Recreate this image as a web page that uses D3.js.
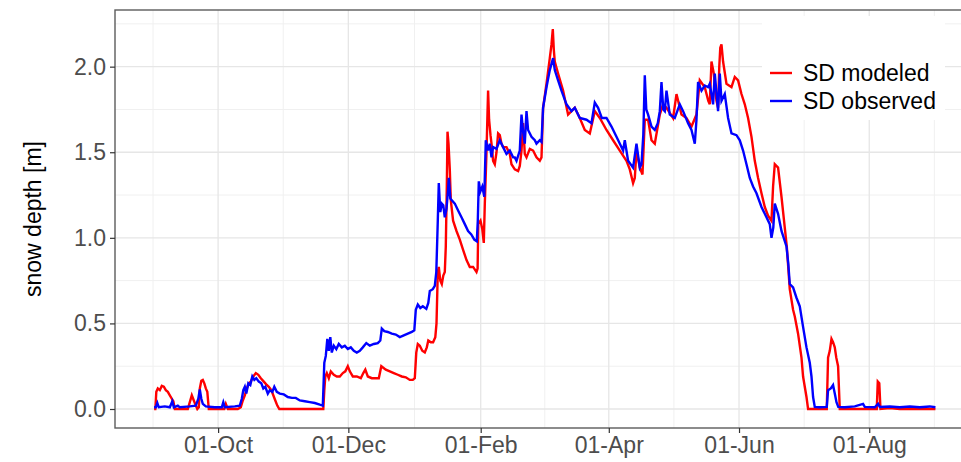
<!DOCTYPE html>
<html>
<head>
<meta charset="utf-8">
<script src="https://cdn.jsdelivr.net/npm/d3@7"></script>
<style>
  body { margin: 0; background: #fff; }
  svg { display: block; font-family: "Liberation Sans", Arial, sans-serif; }
</style>
</head>
<body>
<svg id="chart" width="961" height="462"></svg>
<script>
// Snow depth, hydrological year starting 1 Sep 2015.
// Times are given as days since the season start.
const seasonStart = Date.UTC(2015, 8, 1);

// Modeled snow depth [m]
const modDay = [0, 0.59, 1.05, 1.76, 2.69, 3.63, 4.57, 5.50, 6.44, 7.38, 8.31, 9.02, 9.72, 14.40, 15.81, 16.74, 17.68, 18.62, 19.55, 20.26,
  20.96, 21.43, 22.13, 22.83, 23.54, 24.24, 24.94, 25.64, 31.73, 32.90, 33.61, 34.54, 39.23, 40.63, 41.57, 42.51, 43.44, 44.38, 45.32, 46.49,
  47.66, 48.83, 50.00, 51.41, 52.81, 53.75, 54.92, 55.85, 56.79, 57.73, 58.67, 79.27, 79.74, 80.21, 80.91, 81.85, 82.79, 84.19, 85.60, 87.00,
  88.41, 89.58, 90.75, 91.69, 93.09, 94.96, 96.84, 98.01, 98.95, 100.12, 101.99, 103.86, 105.27, 106.44, 108.55, 110.42, 112.30, 114.17, 116.04, 117.92,
  119.79, 121.19, 122.13, 122.83, 123.54, 124.47, 125.64, 126.81, 127.75, 128.45, 129.63, 130.70, 131.73, 132.30, 132.90, 133.37, 134.07, 134.78, 135.48, 136.18,
  136.65, 137.12, 137.45, 137.92, 138.52, 138.99, 140.07, 141.66, 143.21, 144.75, 146.35, 147.89, 149.44, 151.03, 151.55, 151.87, 152.90, 153.75, 154.45, 154.92,
  155.71, 156.46, 156.93, 157.59, 158.06, 158.81, 159.60, 160.40, 161.15, 161.94, 162.74, 163.49, 165.08, 166.63, 167.42, 168.97, 170.52, 171.31, 172.11, 172.86,
  173.65, 174.45, 176.00, 177.54, 179.13, 180.68, 181.48, 182.22, 183.82, 185.36, 186.16, 186.77, 187.24, 187.70, 189.25, 191.59, 193.93, 195.53, 197.07, 199.41,
  201.76, 204.10, 206.44, 208.78, 211.92, 215.01, 218.15, 221.29, 222.83, 224.38, 225.18, 225.97, 227.52, 228.78, 229.86, 231.41, 233.00, 234.54, 236.89, 238.43,
  240.02, 241.57, 243.11, 244.71, 247.05, 249.39, 251.73, 254.07, 255.62, 257.96, 259.60, 260.30, 261.10, 262.18, 262.65, 263.44, 264.19, 264.75, 265.22, 265.78,
  266.53, 268.12, 270.47, 272.01, 273.56, 275.15, 276.70, 278.24, 279.84, 281.38, 282.93, 284.52, 286.07, 287.61, 289.20, 289.95, 290.75, 292.29, 293.89, 295.43,
  296.37, 297.77, 299.32, 300.12, 301.66, 303.26, 304.00, 305.60, 306.35, 315.10, 315.71, 316.51, 317.31, 318.05, 318.85, 319.56, 320.40, 321.19, 338.52, 338.99,
  339.70, 340.26, 344.61, 349.29, 366.0];
const modDepth = [0, 0, 0.10, 0.12, 0.11, 0.135, 0.13, 0.11, 0.10, 0.08, 0.06, 0.045, 0, 0, 0, 0.04, 0.08, 0.05, 0.02, 0,
  0.01, 0.12, 0.165, 0.17, 0.15, 0.12, 0.10, 0, 0, 0, 0.03, 0, 0, 0.01, 0.05, 0.08, 0.12, 0.15, 0.16, 0.19,
  0.21, 0.20, 0.18, 0.16, 0.14, 0.13, 0.11, 0.08, 0.05, 0.02, 0, 0, 0.11, 0.19, 0.21, 0.18, 0.22, 0.20, 0.19, 0.19,
  0.21, 0.22, 0.25, 0.22, 0.19, 0.19, 0.18, 0.21, 0.23, 0.19, 0.18, 0.18, 0.18, 0.25, 0.23, 0.22, 0.21, 0.20, 0.19, 0.185,
  0.17, 0.17, 0.18, 0.33, 0.38, 0.37, 0.34, 0.33, 0.36, 0.40, 0.39, 0.39, 0.42, 0.50, 0.80, 0.83, 0.75, 0.73, 0.78, 0.80,
  0.95, 1.30, 1.62, 1.55, 1.40, 1.22, 1.10, 1.04, 0.99, 0.93, 0.87, 0.83, 0.83, 0.80, 0.82, 1.08, 1.10, 1.05, 0.97, 1.20,
  1.50, 1.86, 1.69, 1.60, 1.55, 1.45, 1.43, 1.50, 1.61, 1.60, 1.55, 1.53, 1.53, 1.49, 1.43, 1.40, 1.39, 1.42, 1.51, 1.67,
  1.49, 1.47, 1.52, 1.51, 1.47, 1.45, 1.47, 1.76, 1.90, 2.05, 2.13, 2.22, 2.10, 2.03, 1.96, 1.86, 1.72, 1.74, 1.76, 1.70,
  1.63, 1.61, 1.74, 1.70, 1.63, 1.57, 1.51, 1.45, 1.40, 1.32, 1.35, 1.51, 1.41, 1.37, 1.69, 1.69, 1.57, 1.55, 1.72, 1.78,
  1.76, 1.73, 1.70, 1.84, 1.72, 1.70, 1.65, 1.72, 1.92, 1.88, 1.80, 1.78, 2.03, 1.96, 1.90, 1.80, 1.76, 2.00, 2.11, 2.13,
  2.03, 1.90, 1.88, 1.94, 1.92, 1.84, 1.78, 1.70, 1.59, 1.45, 1.35, 1.26, 1.18, 1.13, 1.10, 1.30, 1.43, 1.41, 1.24, 1.06,
  0.95, 0.70, 0.58, 0.54, 0.44, 0.30, 0.19, 0.07, 0, 0, 0.30, 0.34, 0.41, 0.39, 0.36, 0.30, 0.25, 0, 0, 0.16,
  0.15, 0, 0.005, 0, 0];

// Observed snow depth [m]
const obsDay = [0, 0.82, 1.52, 2.22, 5.04, 7.38, 8.55, 9.25, 11.12, 12.06, 16.74, 19.55, 20.73, 21.43, 22.13, 22.83, 24.24, 28.45, 31.73, 32.44,
  33.14, 37.82, 40.16, 41.10, 41.80, 42.51, 43.21, 44.15, 45.08, 46.02, 46.96, 47.89, 49.06, 50.23, 51.17, 52.11, 53.28, 54.22, 55.39, 56.32,
  57.49, 58.90, 60.77, 62.65, 64.52, 66.39, 68.27, 70.61, 72.95, 75.30, 77.64, 79.04, 79.74, 80.44, 81.15, 81.85, 82.55, 83.25, 84.19, 85.36,
  86.53, 87.94, 89.34, 90.75, 92.15, 93.56, 94.96, 96.37, 97.77, 99.41, 101.05, 102.93, 104.80, 105.97, 106.67, 107.85, 109.48, 111.36, 113.23, 115.11,
  116.98, 118.85, 120.73, 121.90, 122.60, 123.54, 124.71, 125.88, 127.52, 128.45, 129.16, 130.56, 131.50, 132.20, 132.90, 133.37, 134.07, 134.78, 135.48, 136.18,
  136.98, 137.59, 138.06, 138.76, 139.46, 140.87, 142.41, 144.00, 145.55, 147.09, 148.59, 150.00, 151.17, 151.64, 152.11, 152.81, 153.75, 154.68, 155.39, 156.46,
  157.26, 158.06, 158.81, 160.40, 161.94, 163.49, 165.08, 166.63, 168.17, 168.97, 169.77, 171.31, 172.11, 172.86, 173.65, 174.45, 175.20, 176.79, 178.34, 179.13,
  180.68, 181.48, 182.22, 183.82, 185.36, 186.91, 187.70, 189.25, 190.84, 193.18, 195.53, 197.07, 199.41, 202.55, 204.89, 206.44, 207.99, 209.72, 211.92, 214.26,
  216.60, 219.70, 220.49, 222.04, 224.38, 225.97, 227.52, 228.31, 229.16, 229.86, 230.56, 231.41, 233.00, 234.54, 235.95, 236.89, 237.68, 238.52, 239.23, 240.02,
  241.57, 243.91, 246.25, 247.80, 250.14, 251.73, 253.28, 254.07, 254.82, 256.42, 257.96, 259.51, 260.30, 261.85, 262.65, 264.19, 264.99, 265.78, 267.33, 268.88,
  270.47, 272.81, 274.36, 275.90, 277.49, 279.04, 280.58, 282.18, 284.52, 286.86, 288.41, 289.20, 290.05, 290.75, 292.29, 293.89, 296.23, 297.07, 297.77, 299.32,
  300.91, 302.46, 304.00, 305.60, 307.14, 307.94, 308.69, 309.48, 311.83, 315.10, 315.71, 316.98, 318.05, 318.85, 319.65, 320.49, 323.53, 328.22, 332.10, 332.90,
  337.58, 339.13, 339.93, 344.61, 349.29, 353.98, 358.66, 363.34, 366.0];
const obsDepth = [0.01, 0.01, 0.035, 0.01, 0.015, 0.01, 0.045, 0.01, 0.02, 0.01, 0.015, 0.02, 0.06, 0.115, 0.06, 0.03, 0.015, 0.01, 0.01, 0.04,
  0.01, 0.015, 0.02, 0.06, 0.11, 0.13, 0.09, 0.15, 0.14, 0.19, 0.17, 0.18, 0.16, 0.15, 0.12, 0.13, 0.09, 0.11, 0.10, 0.13,
  0.10, 0.09, 0.085, 0.07, 0.065, 0.065, 0.05, 0.045, 0.04, 0.035, 0.025, 0.02, 0.27, 0.31, 0.41, 0.34, 0.42, 0.33, 0.37, 0.35,
  0.38, 0.36, 0.37, 0.35, 0.36, 0.34, 0.33, 0.34, 0.36, 0.385, 0.37, 0.38, 0.385, 0.40, 0.47, 0.455, 0.45, 0.44, 0.435, 0.42,
  0.43, 0.44, 0.45, 0.46, 0.58, 0.61, 0.59, 0.60, 0.585, 0.62, 0.69, 0.70, 0.72, 0.80, 1.10, 1.32, 1.15, 1.20, 1.19, 1.12,
  1.17, 1.26, 1.35, 1.23, 1.22, 1.20, 1.16, 1.12, 1.08, 1.04, 1.02, 0.99, 0.98, 1.10, 1.33, 1.27, 1.30, 1.24, 1.57, 1.51,
  1.55, 1.47, 1.53, 1.52, 1.57, 1.53, 1.49, 1.51, 1.47, 1.47, 1.45, 1.51, 1.72, 1.62, 1.55, 1.74, 1.63, 1.59, 1.57, 1.55,
  1.57, 1.56, 1.76, 1.88, 1.98, 2.05, 1.98, 1.92, 1.86, 1.78, 1.74, 1.76, 1.70, 1.69, 1.67, 1.79, 1.76, 1.70, 1.70, 1.65,
  1.59, 1.51, 1.57, 1.45, 1.41, 1.55, 1.41, 1.43, 1.60, 1.95, 1.75, 1.72, 1.65, 1.63, 1.67, 1.74, 1.91, 1.75, 1.74, 1.86,
  1.72, 1.70, 1.78, 1.74, 1.67, 1.63, 1.55, 1.69, 1.91, 1.86, 1.89, 1.88, 1.90, 1.78, 1.96, 1.74, 1.96, 1.80, 1.84, 1.70,
  1.61, 1.60, 1.57, 1.51, 1.43, 1.35, 1.30, 1.26, 1.18, 1.12, 1.08, 1.00, 1.06, 1.20, 1.14, 1.04, 0.95, 0.85, 0.73, 0.71,
  0.65, 0.60, 0.48, 0.36, 0.27, 0.19, 0.07, 0.012, 0.01, 0.012, 0.11, 0.12, 0.14, 0.09, 0.04, 0.012, 0.01, 0.015, 0.03, 0.012,
  0.01, 0.03, 0.012, 0.015, 0.01, 0.015, 0.01, 0.015, 0.01];

// Axis breaks and legend entries
const xTickDates = ["2015-10-01", "2015-12-01", "2016-02-01", "2016-04-01", "2016-06-01", "2016-08-01"];
const xOuterBreaks = ["2015-08-01", "2016-10-01"];
const yTicks = [0, 0.5, 1.0, 1.5, 2.0];
const seriesNames = ["SD modeled", "SD observed"];
const seriesColors = ["#ff0000", "#0000ff"];
const yTitle = "snow depth [m]";

const parseDay = d3.utcParse("%Y-%m-%d");
const toTime = d => new Date(seasonStart + Math.round(d * 1440) * 60000);

const modeled = modDay.map((d, i) => ({ t: toTime(d), v: modDepth[i] }));
const observed = obsDay.map((d, i) => ({ t: toTime(d), v: obsDepth[i] }));

const panel = { left: 115, top: 10, right: 974.5, bottom: 428 };

// Data range padded by 5% on each side
const tExt = d3.extent(modeled.concat(observed), d => d.t);
const tPad = (tExt[1] - tExt[0]) * 0.05;
const x = d3.scaleUtc()
  .domain([new Date(+tExt[0] - tPad), new Date(+tExt[1] + tPad)])
  .range([panel.left, panel.right]);

const vMax = d3.max(modeled.concat(observed), d => d.v);
const vMin = 0;
const vPad = (vMax - vMin) * 0.05;
const y = d3.scaleLinear()
  .domain([vMin - vPad, vMax + vPad])
  .range([panel.bottom, panel.top]);

const svg = d3.select("#chart");

svg.append("defs").append("clipPath").attr("id", "panel-clip")
  .append("rect")
  .attr("x", panel.left).attr("y", panel.top)
  .attr("width", panel.right - panel.left).attr("height", panel.bottom - panel.top);

// Grid: minor lines halfway between major breaks
const majorDates = [parseDay(xOuterBreaks[0])].concat(xTickDates.map(parseDay), [parseDay(xOuterBreaks[1])]);
const minorDates = d3.pairs(majorDates, (a, b) => new Date((+a + +b) / 2));
const yMinor = d3.pairs(yTicks, (a, b) => (a + b) / 2).concat([yTicks[yTicks.length - 1] + 0.25]);

const grid = svg.append("g").attr("clip-path", "url(#panel-clip)");
grid.selectAll("line.ymin").data(yMinor).join("line")
  .attr("x1", panel.left).attr("x2", panel.right)
  .attr("y1", d => y(d)).attr("y2", d => y(d))
  .attr("stroke", "#f0f0f0").attr("stroke-width", 1);
grid.selectAll("line.xmin").data(minorDates).join("line")
  .attr("y1", panel.top).attr("y2", panel.bottom)
  .attr("x1", d => x(d)).attr("x2", d => x(d))
  .attr("stroke", "#f0f0f0").attr("stroke-width", 1);
grid.selectAll("line.ymaj").data(yTicks).join("line")
  .attr("x1", panel.left).attr("x2", panel.right)
  .attr("y1", d => y(d)).attr("y2", d => y(d))
  .attr("stroke", "#e6e6e6").attr("stroke-width", 1.3);
grid.selectAll("line.xmaj").data(xTickDates.map(parseDay)).join("line")
  .attr("y1", panel.top).attr("y2", panel.bottom)
  .attr("x1", d => x(d)).attr("x2", d => x(d))
  .attr("stroke", "#e6e6e6").attr("stroke-width", 1.3);

// Series
const line = d3.line().x(d => x(d.t)).y(d => y(d.v));
const plot = svg.append("g").attr("clip-path", "url(#panel-clip)");
[modeled, observed].forEach((s, i) => {
  plot.append("path")
    .datum(s)
    .attr("fill", "none")
    .attr("stroke", seriesColors[i])
    .attr("stroke-width", 2.4)
    .attr("stroke-linejoin", "miter")
    .attr("d", line);
});

// Panel border
svg.append("rect")
  .attr("x", panel.left).attr("y", panel.top)
  .attr("width", panel.right - panel.left).attr("height", panel.bottom - panel.top)
  .attr("fill", "none").attr("stroke", "#5c5c5c").attr("stroke-width", 1.4);

// Axes
const yAxis = svg.append("g")
  .attr("transform", `translate(${panel.left},0)`)
  .call(d3.axisLeft(y).tickValues(yTicks).tickFormat(d3.format(".1f")).tickSize(5).tickPadding(4));
const xAxis = svg.append("g")
  .attr("transform", `translate(0,${panel.bottom})`)
  .call(d3.axisBottom(x).tickValues(xTickDates.map(parseDay)).tickFormat(d3.utcFormat("%d-%b")).tickSize(5).tickPadding(4));
[yAxis, xAxis].forEach(g => {
  g.select(".domain").remove();
  g.selectAll(".tick line").attr("stroke", "#333").attr("stroke-width", 1.2);
  g.selectAll(".tick text").attr("fill", "#4d4d4d").style("font-size", "23px");
});

svg.append("text")
  .attr("transform", `translate(33,${(panel.top + panel.bottom) / 2}) rotate(-90)`)
  .attr("text-anchor", "middle")
  .attr("dominant-baseline", "central")
  .style("font-size", "23px")
  .attr("fill", "#000")
  .text(yTitle);

// Legend
const legend = svg.append("g");
legend.append("rect")
  .attr("x", 762).attr("y", 16).attr("width", 183).attr("height", 104)
  .attr("fill", "#fff");
seriesNames.forEach((name, i) => {
  const cy = 73 + i * 28;
  legend.append("line")
    .attr("x1", 770).attr("x2", 792).attr("y1", cy).attr("y2", cy)
    .attr("stroke", seriesColors[i]).attr("stroke-width", 2.4);
  legend.append("text")
    .attr("x", 803).attr("y", cy)
    .attr("dominant-baseline", "central")
    .style("font-size", "23px")
    .attr("fill", "#000")
    .text(name);
});
</script>
</body>
</html>
